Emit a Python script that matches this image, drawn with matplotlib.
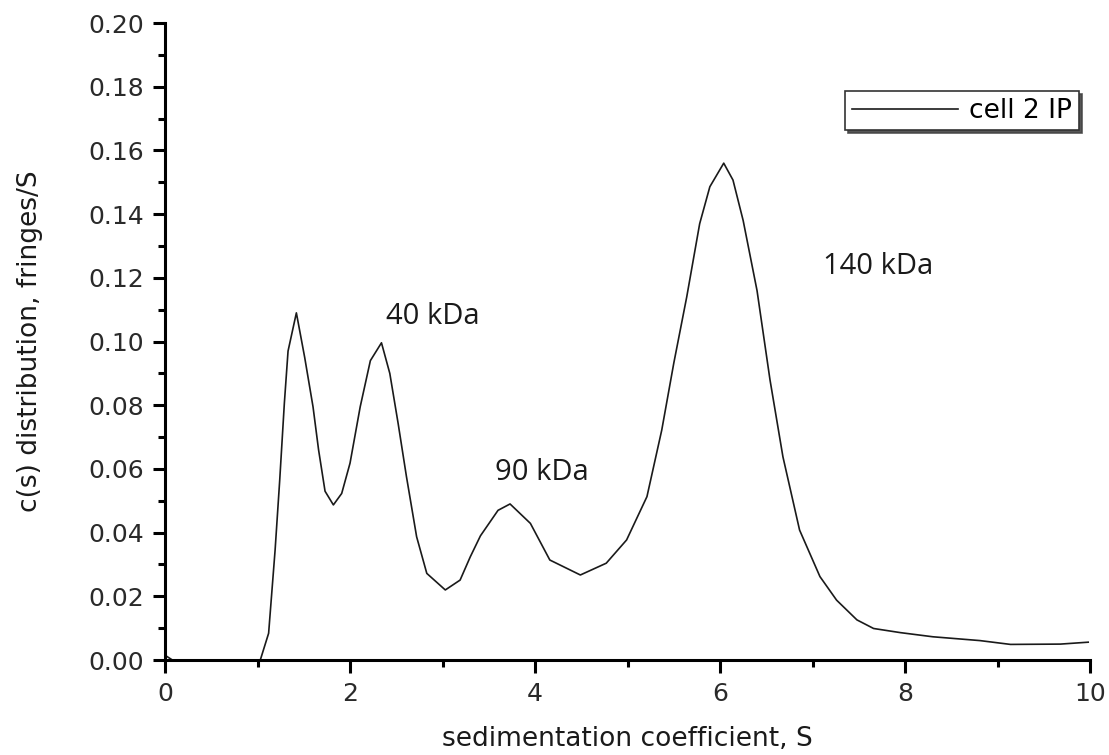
import matplotlib
matplotlib.use("Agg")
import matplotlib.pyplot as plt
from matplotlib.ticker import MultipleLocator, FormatStrFormatter

# c(s) distribution
sed_coef = [0.0, 0.08, 1.03, 1.12, 1.19, 1.24, 1.29, 1.33, 1.42, 1.51, 1.60, 1.66,
            1.73, 1.82, 1.91, 2.0, 2.11, 2.22, 2.34, 2.43, 2.52, 2.61, 2.72, 2.83,
            3.03, 3.19, 3.30, 3.41, 3.60, 3.73, 3.95, 4.16, 4.49, 4.77, 4.99, 5.21,
            5.37, 5.50, 5.64, 5.78, 5.89, 6.04, 6.14, 6.25, 6.40, 6.54, 6.68, 6.86,
            7.08, 7.26, 7.48, 7.66, 7.95, 8.30, 8.81, 9.14, 9.68, 9.98]
cs_dist = [0.0015, 0.0, 0.0, 0.0084, 0.0345, 0.0565, 0.0806, 0.097, 0.109, 0.095,
           0.0795, 0.066, 0.053, 0.0487, 0.0523, 0.0618, 0.0795, 0.094, 0.0996, 0.090,
           0.0743, 0.0576, 0.0387, 0.0272, 0.022, 0.0251, 0.0324, 0.039, 0.047, 0.049,
           0.0429, 0.0314, 0.0267, 0.0304, 0.0377, 0.0513, 0.0722, 0.0932, 0.114, 0.137,
           0.1486, 0.156, 0.1507, 0.138, 0.116, 0.088, 0.0638, 0.0408, 0.0262, 0.0188,
           0.0126, 0.0099, 0.0086, 0.0073, 0.0061, 0.0049, 0.005, 0.0056]

# peak labels
peak_text = ["40 kDa", "90 kDa", "140 kDa"]
peak_x = [2.89, 4.07, 7.71]
peak_y = [0.1078, 0.059, 0.1234]

plt.rcParams['font.family'] = ['DejaVu Sans']

fig = plt.figure(figsize=(11.09, 7.55), dpi=100)
ax = fig.add_axes([0.1488, 0.1258, 0.9829 - 0.1488, 0.9695 - 0.1258])

ax.plot(sed_coef, cs_dist, color='#1a1a1a', lw=1.2, label='cell 2 IP')

for t, x, y in zip(peak_text, peak_x, peak_y):
    ax.text(x, y, t, ha='center', va='center', fontsize=21,
            family=['Open Sans', 'DejaVu Sans'], color='#1a1a1a')

ax.set_xlim(0, 10)
ax.set_ylim(0, 0.20)
ax.xaxis.set_major_locator(MultipleLocator(2))
ax.xaxis.set_minor_locator(MultipleLocator(1))
ax.yaxis.set_major_locator(MultipleLocator(0.02))
ax.yaxis.set_minor_locator(MultipleLocator(0.01))
ax.yaxis.set_major_formatter(FormatStrFormatter('%.2f'))

for side in ['top', 'right']:
    ax.spines[side].set_visible(False)
for side in ['left', 'bottom']:
    ax.spines[side].set_linewidth(2.2)
    ax.spines[side].set_color('black')

ax.tick_params(which='major', direction='out', length=9, width=2.2,
               labelsize=18, labelcolor='#2a2a2a', pad=6)
ax.tick_params(which='minor', direction='out', length=5, width=2.2)
ax.tick_params(axis='x', which='major', pad=7)

ax.set_xlabel("sedimentation coefficient, S", fontsize=19, color='#1a1a1a', labelpad=14)
ax.set_ylabel("c(s) distribution, fringes/S", fontsize=19, color='#1a1a1a', labelpad=33)

leg = ax.legend(loc='upper right', bbox_to_anchor=(0.988, 0.893), fontsize=19,
                fancybox=False, shadow={'color': '#444444', 'alpha': 0.9},
                handlelength=4.0, handletextpad=0.45, borderpad=0.25,
                borderaxespad=0, framealpha=1)
leg.get_frame().set_edgecolor('#333333')
leg.get_frame().set_linewidth(1.2)

fig.savefig('out.png', dpi=100)
